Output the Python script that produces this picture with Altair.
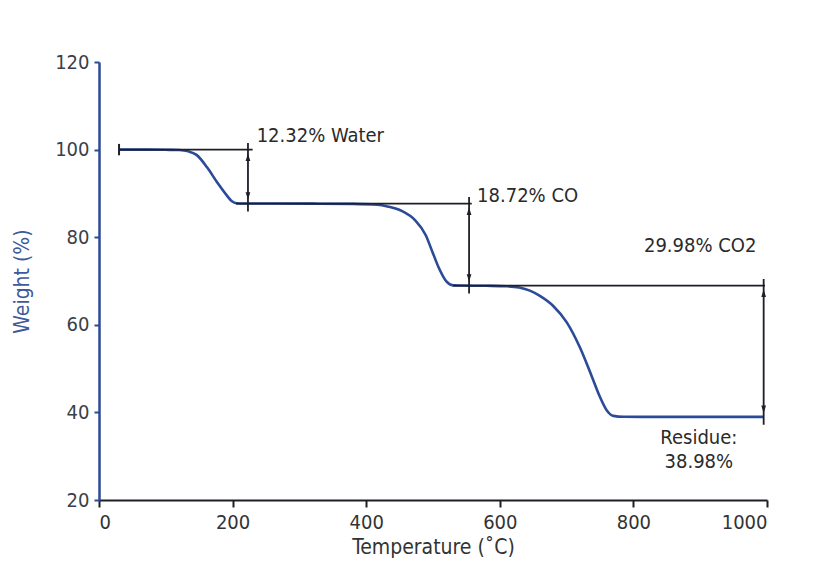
import altair as alt
import pandas as pd

# TGA curve (calcium oxalate monohydrate)
temp = [30, 60, 100, 120, 134, 146, 162, 177, 191, 199, 206, 215, 260, 320, 380,
        417, 432, 453, 473, 489, 499, 509, 520, 530, 540, 580, 610, 629, 645, 660,
        680, 700, 720, 737, 750, 760, 770, 785, 850, 920, 995]
weight = [100, 100, 99.95, 99.9, 99.6, 98.8, 95.9, 92.5, 89.6, 88.2, 87.75, 87.68,
          87.68, 87.66, 87.6, 87.4, 87.0, 86.0, 83.9, 80.5, 76.7, 72.9, 69.9, 69.0,
          68.96, 68.9, 68.8, 68.5, 67.8, 66.6, 64.3, 60.6, 54.8, 48.5, 43.5, 40.5,
          39.2, 39.0, 38.98, 38.98, 38.98]

# annotation lines (levels and extents)
level_y = [100, 87.68, 68.96]
level_x1 = [30, 205, 530]
level_x2 = [230, 558, 997]

# double arrows (weight-loss steps)
arrow_x = [223, 554, 995]
arrow_top = [100, 87.68, 68.96]
arrow_bottom = [87.68, 68.96, 38.98]

# labels
label_text = ["12.32% Water", "18.72% CO", "29.98% CO2", "Residue:", "38.98%"]
label_x = [236, 566, 900, 898, 898]
label_y = [103, 89.3, 78, 34.2, 28.7]
label_align = ["left", "left", "center", "center", "center"]

x_ticks = [0, 200, 400, 600, 800, 1000]
y_ticks = [20, 40, 60, 80, 100, 120]

FONT = "DejaVu Sans Condensed, Liberation Sans, sans-serif"
BLUE = "#2b4a98"
INK = "#1e1e26"

xs = alt.Scale(domain=[0, 1000], nice=False)
ys = alt.Scale(domain=[20, 120], nice=False)

curve_df = pd.DataFrame({"t": temp, "w": weight})
lev_df = pd.DataFrame({"x1": level_x1, "x2": level_x2, "y": level_y})
arr_df = pd.DataFrame({"x": arrow_x, "top": arrow_top, "bottom": arrow_bottom})
arr_df["rtop"] = arr_df["top"] + 1.5
arr_df["rbot"] = arr_df["bottom"] - 1.8
arr_df["tip_up"] = arr_df["top"] - 0.9
arr_df["tip_dn"] = arr_df["bottom"] + 0.9
lab_df = pd.DataFrame({"text": label_text, "x": label_x, "y": label_y, "align": label_align})

base_x = alt.X("t:Q", scale=xs,
               axis=alt.Axis(values=x_ticks, format="d", title="Temperature (˚C)", grid=False,
                             domainColor=INK, domainWidth=2, tickColor=INK, tickWidth=2,
                             tickSize=7, labelPadding=5, labelFont=FONT, labelFontSize=20,
                             labelColor="#333333", titleFont=FONT, titleFontSize=21,
                             titleFontWeight="normal", titleColor="#333333", titlePadding=4))
base_y = alt.Y("w:Q", scale=ys,
               axis=alt.Axis(values=y_ticks, title="Weight (%)", grid=False,
                             domainColor=BLUE, domainWidth=2.5, tickColor=BLUE, tickWidth=2,
                             tickSize=5, labelPadding=5, labelFont=FONT, labelFontSize=20,
                             labelColor="#3a3f4a", titleFont=FONT, titleFontSize=21,
                             titleFontWeight="normal", titleColor="#3d5a9c", titlePadding=22))

curve = alt.Chart(curve_df).mark_line(color=BLUE, strokeWidth=2.6, interpolate="monotone").encode(
    x=base_x, y=base_y)

levels = alt.Chart(lev_df).mark_rule(color=INK, strokeWidth=1.8).encode(
    x=alt.X("x1:Q", scale=xs), x2="x2:Q", y=alt.Y("y:Q", scale=ys))

start_tick = alt.Chart(pd.DataFrame({"x": [level_x1[0]], "a": [101.3], "b": [98.7]})).mark_rule(
    color=INK, strokeWidth=2).encode(x=alt.X("x:Q", scale=xs), y=alt.Y("a:Q", scale=ys), y2="b:Q")

shafts = alt.Chart(arr_df).mark_rule(color=INK, strokeWidth=1.8).encode(
    x=alt.X("x:Q", scale=xs), y=alt.Y("rtop:Q", scale=ys), y2="rbot:Q")

up_heads = alt.Chart(arr_df).mark_point(
    shape="M0,0 L-0.32,1 L0.32,1 Z", size=220, filled=True, color=INK, opacity=1).encode(
    x=alt.X("x:Q", scale=xs), y=alt.Y("tip_up:Q", scale=ys))
dn_heads = alt.Chart(arr_df).mark_point(
    shape="M0,0 L-0.32,-1 L0.32,-1 Z", size=220, filled=True, color=INK, opacity=1).encode(
    x=alt.X("x:Q", scale=xs), y=alt.Y("tip_dn:Q", scale=ys))

texts = []
for al in ["left", "center"]:
    texts.append(alt.Chart(lab_df[lab_df["align"] == al]).mark_text(
        font=FONT, fontSize=20, color="#2a2a2a", align=al, baseline="middle").encode(
        x=alt.X("x:Q", scale=xs), y=alt.Y("y:Q", scale=ys), text="text:N"))

chart = alt.layer(curve, levels, start_tick, shafts, up_heads, dn_heads, *texts).properties(
    width=668, height=438,
    autosize=alt.AutoSizeParams(type="none"),
    padding={"left": 91, "top": 54, "right": 50, "bottom": 70},
).configure(background="white", view=alt.ViewConfig(strokeWidth=0, stroke="transparent"))

chart.save("out.html", embed_options={"renderer": "svg", "actions": False})
